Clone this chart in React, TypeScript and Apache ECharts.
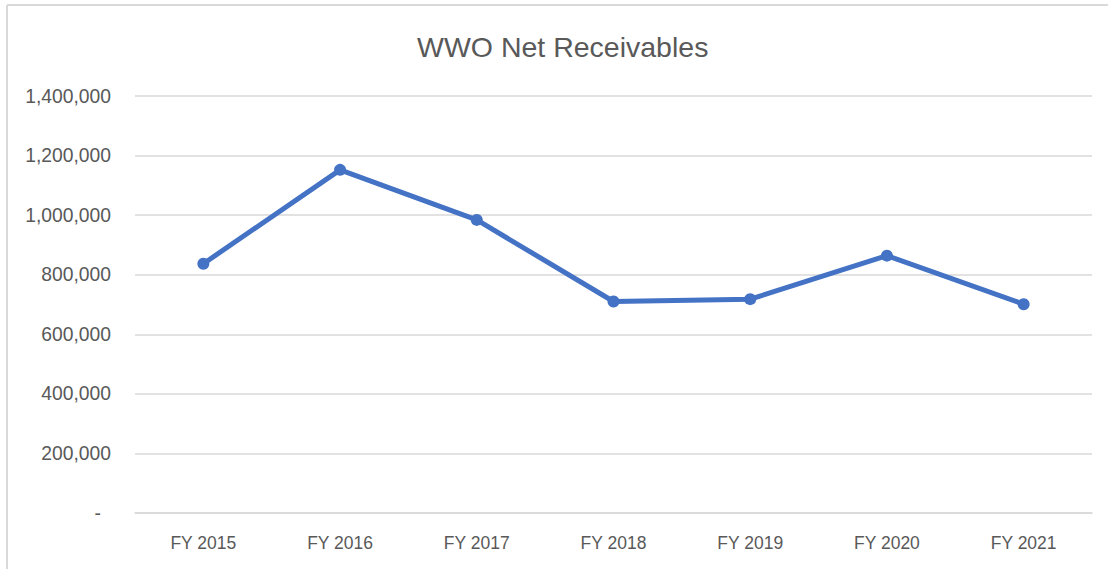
import React, { useEffect, useRef } from "react";
import * as echarts from "echarts";

const TITLE = "WWO Net Receivables";
const CATEGORIES = ["FY 2015", "FY 2016", "FY 2017", "FY 2018", "FY 2019", "FY 2020", "FY 2021"];
const NET_RECEIVABLES = [837000, 1152000, 984000, 710000, 718000, 864000, 701000];
const Y_MIN = 0;
const Y_MAX = 1400000;
const Y_INTERVAL = 200000;

const FONT = "'Liberation Sans', Arial, sans-serif";
const TEXT_COLOR = "#595959";
const GRID_COLOR = "#d9d9d9";
const LINE_COLOR = "#4472C4";

export default function App() {
  const ref = useRef<HTMLDivElement>(null);

  useEffect(() => {
    if (!ref.current) return;
    const chart = echarts.init(ref.current, null, { renderer: "svg" });
    chart.setOption({
      animation: false,
      backgroundColor: "#ffffff",
      textStyle: { fontFamily: FONT },
      title: {
        text: TITLE,
        left: 417,
        top: 32,
        padding: 0,
        textStyle: { fontFamily: FONT, fontSize: 28.5, fontWeight: "normal", color: TEXT_COLOR },
      },
      graphic: [
        { type: "line", shape: { x1: 7, y1: 5, x2: 1108, y2: 5 }, style: { stroke: GRID_COLOR, lineWidth: 2 } },
        { type: "line", shape: { x1: 7, y1: 5, x2: 7, y2: 569 }, style: { stroke: GRID_COLOR, lineWidth: 2 } },
      ],
      grid: { left: 135, right: 16, top: 96, bottom: 56, containLabel: false },
      xAxis: {
        type: "category",
        data: CATEGORIES,
        boundaryGap: true,
        axisLine: { show: true, lineStyle: { color: GRID_COLOR, width: 1.5 } },
        axisTick: { show: false },
        axisLabel: { color: TEXT_COLOR, fontSize: 17.5, fontFamily: FONT, margin: 21 },
        splitLine: { show: false },
      },
      yAxis: {
        type: "value",
        min: Y_MIN,
        max: Y_MAX,
        interval: Y_INTERVAL,
        axisLine: { show: false },
        axisTick: { show: false },
        axisLabel: {
          color: TEXT_COLOR,
          fontSize: 19.3,
          fontFamily: FONT,
          margin: 24,
          formatter: (v: number) => (v === 0 ? "{d|-}" : v.toLocaleString("en-US")),
          rich: { d: { color: TEXT_COLOR, fontSize: 19.3, fontFamily: FONT, padding: [0, 10, 0, 0] } },
        },
        splitLine: { show: true, lineStyle: { color: GRID_COLOR, width: 1.5 } },
      },
      series: [
        {
          type: "line",
          name: TITLE,
          data: NET_RECEIVABLES,
          symbol: "circle",
          symbolSize: 12,
          lineStyle: { color: LINE_COLOR, width: 5 },
          itemStyle: { color: LINE_COLOR },
        },
      ],
    });
    return () => chart.dispose();
  }, []);

  return (
    <div
      ref={ref}
      style={{ position: "absolute", left: 0, top: 0, width: 1108, height: 569, background: "#fff" }}
    />
  );
}
